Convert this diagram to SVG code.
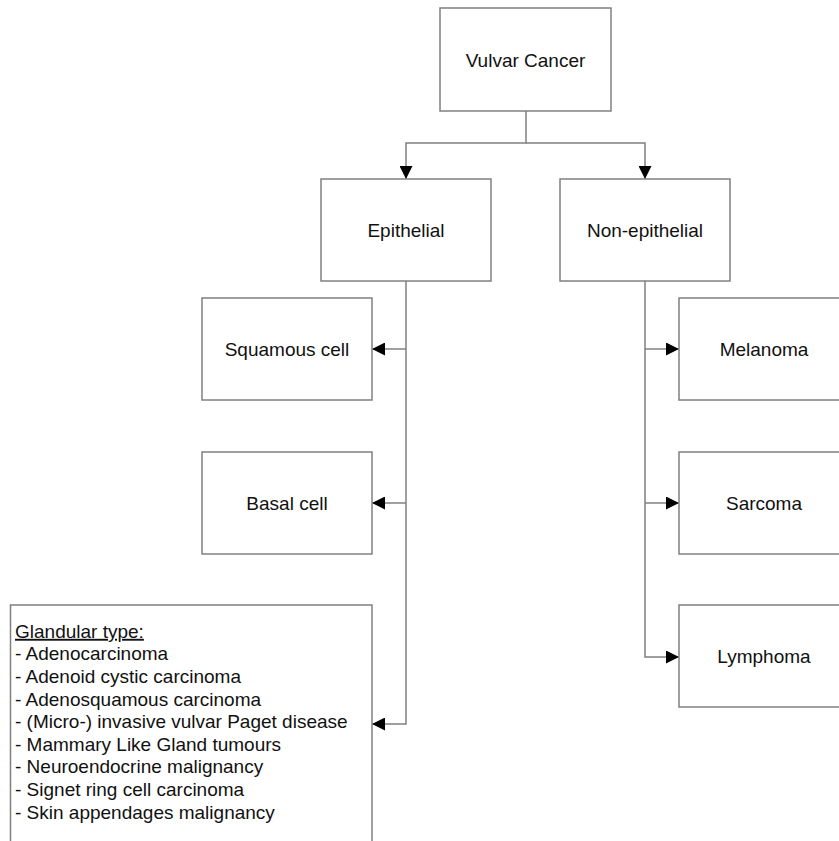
<svg xmlns="http://www.w3.org/2000/svg" width="839" height="841" viewBox="0 0 839 841">
<style>
.box{fill:#fff;stroke:#808080;stroke-width:1.5}
.lbl{font-family:"Liberation Sans",Arial,sans-serif;font-size:19px;fill:#111;text-anchor:middle}
.lst{font-family:"Liberation Sans",Arial,sans-serif;font-size:19px;fill:#111}
.con{fill:none;stroke:#808080;stroke-width:1.5}
</style>
<defs>
<marker id="ah" markerUnits="userSpaceOnUse" markerWidth="14" markerHeight="13" refX="13" refY="6.5" orient="auto">
<path d="M0,0 L13,6.5 L0,13 Z" fill="#000"/>
</marker>
</defs>
<rect width="839" height="841" fill="#fff"/>
<g id="connectors">
<path class="con" d="M526,111 V143 H406 V179" marker-end="url(#ah)"/>
<path class="con" d="M526,143 H645 V179" marker-end="url(#ah)"/>
<path class="con" d="M406,281 V724 H372" marker-end="url(#ah)"/>
<path class="con" d="M406,349 H372" marker-end="url(#ah)"/>
<path class="con" d="M406,503 H372" marker-end="url(#ah)"/>
<path class="con" d="M645,281 V657 H679" marker-end="url(#ah)"/>
<path class="con" d="M645,349 H679" marker-end="url(#ah)"/>
<path class="con" d="M645,503 H679" marker-end="url(#ah)"/>
</g>
<g id="vulvar-cancer">
<rect class="box" x="440" y="8" width="171" height="103"/>
<text class="lbl" x="525.5" y="66.5">Vulvar Cancer</text>
</g>
<g id="epithelial">
<rect class="box" x="321" y="179" width="170" height="102"/>
<text class="lbl" x="406" y="236.5">Epithelial</text>
</g>
<g id="non-epithelial">
<rect class="box" x="560" y="179" width="170" height="102"/>
<text class="lbl" x="645" y="236.5">Non-epithelial</text>
</g>
<g id="squamous-cell">
<rect class="box" x="202" y="298" width="170" height="102"/>
<text class="lbl" x="287" y="355.5">Squamous cell</text>
</g>
<g id="basal-cell">
<rect class="box" x="202" y="452" width="170" height="102"/>
<text class="lbl" x="287" y="509.5">Basal cell</text>
</g>
<g id="glandular-type">
<rect class="box" x="10.5" y="605" width="361.5" height="260"/>
<text class="lst" x="15" y="637.8"><tspan text-decoration="underline">Glandular type:</tspan></text>
<text class="lst" x="15" y="660.4">- Adenocarcinoma</text>
<text class="lst" x="15" y="683">- Adenoid cystic carcinoma</text>
<text class="lst" x="15" y="705.6">- Adenosquamous carcinoma</text>
<text class="lst" x="15" y="728.2">- (Micro-) invasive vulvar Paget disease</text>
<text class="lst" x="15" y="750.8">- Mammary Like Gland tumours</text>
<text class="lst" x="15" y="773.4">- Neuroendocrine malignancy</text>
<text class="lst" x="15" y="796">- Signet ring cell carcinoma</text>
<text class="lst" x="15" y="818.6">- Skin appendages malignancy</text>
</g>
<g id="melanoma">
<rect class="box" x="679" y="298" width="170" height="102"/>
<text class="lbl" x="764" y="355.5">Melanoma</text>
</g>
<g id="sarcoma">
<rect class="box" x="679" y="452" width="170" height="102"/>
<text class="lbl" x="764" y="509.5">Sarcoma</text>
</g>
<g id="lymphoma">
<rect class="box" x="679" y="605" width="170" height="102"/>
<text class="lbl" x="764" y="662.5">Lymphoma</text>
</g>
</svg>
